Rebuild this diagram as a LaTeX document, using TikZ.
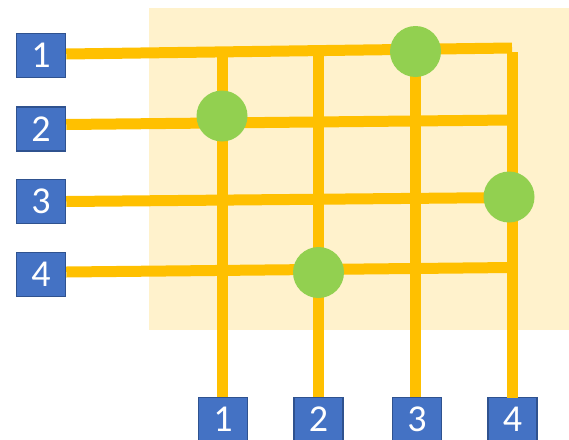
\documentclass[tikz,border=0pt]{standalone}
\usepackage{fontspec}
\setmainfont{Carlito}
\usepackage{xcolor}
\usepackage{tikz}

\definecolor{boxblue}{HTML}{4472C4}
\definecolor{boxedge}{HTML}{2F528F}
\definecolor{wireyellow}{HTML}{FFC000}
\definecolor{dotgreen}{HTML}{92D050}
\definecolor{areacream}{HTML}{FFF2CC}

\begin{document}
\begin{tikzpicture}[x=1pt, y=-1pt,
    port/.style={draw=boxedge, line width=1.5pt, fill=boxblue, text=white, minimum width=49pt, minimum height=44pt, inner sep=0pt, font=\fontsize{38}{40}\selectfont},
    wire/.style={draw=wireyellow, line width=11pt},
    link/.style={circle, fill=dotgreen, minimum size=51pt, inner sep=0pt}]

    \useasboundingbox (0,0) rectangle (569,439);

    % Crossbar area
    \fill[areacream] (149,8) rectangle (569,330);

    % Row inputs
    \node[port] (in1) at (41,55.5) {1};
    \node[port] (in2) at (41,129) {2};
    \node[port] (in3) at (41,201.5) {3};
    \node[port] (in4) at (41,274.5) {4};

    % Column outputs
    \node[port] (out1) at (223,419.5) {1};
    \node[port] (out2) at (318.5,419.5) {2};
    \node[port] (out3) at (417,419.5) {3};
    \node[port] (out4) at (512.5,419.5) {4};

    % Wire ends
    \coordinate (r1) at (512,48);
    \coordinate (r2) at (512,120);
    \coordinate (r3) at (512,197.5);
    \coordinate (r4) at (512,267.5);
    \coordinate (c1) at (222,55);
    \coordinate (c2) at (318.5,55);
    \coordinate (c3) at (415.5,55);
    \coordinate (c4) at (512.5,52);

    % Row wires
    \draw[wire] ([yshift=1.5pt]in1.east) -- (r1);
    \draw[wire] ([yshift=4.5pt]in2.east) -- (r2);
    \draw[wire] (in3.east) -- (r3);
    \draw[wire] ([yshift=2.5pt]in4.east) -- (r4);

    % Column wires
    \draw[wire] (c1) -- (c1 |- out1.north);
    \draw[wire] (c2) -- (c2 |- out2.north);
    \draw[wire] (c3) -- (c3 |- out3.north);
    \draw[wire] (c4) -- ([yshift=-1pt]c4 |- out4.north);

    % Connections
    \node[link] (x13) at (415.5,51.5) {};
    \node[link] (x21) at (222,116) {};
    \node[link] (x34) at (509,197) {};
    \node[link] (x42) at (318.5,272.5) {};
\end{tikzpicture}
\end{document}
